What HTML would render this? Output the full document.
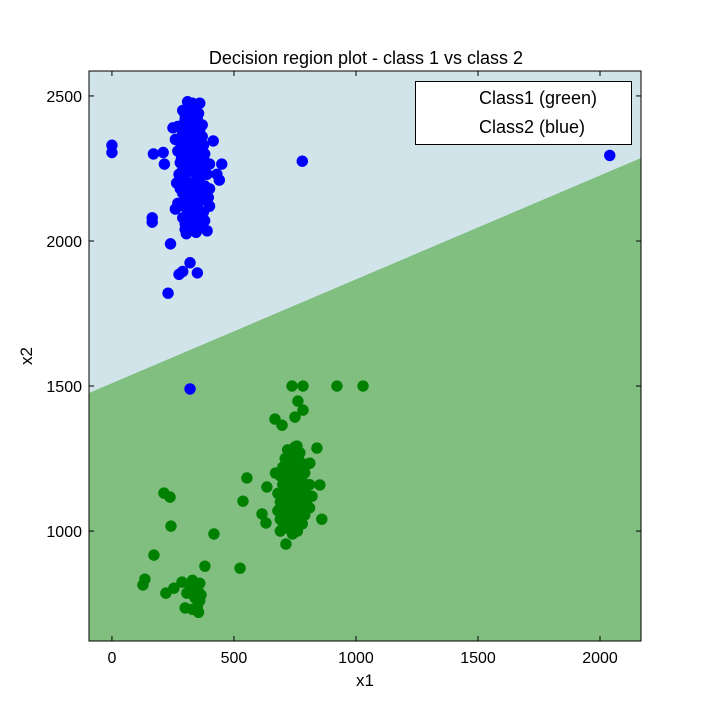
<!DOCTYPE html>
<html><head><meta charset="utf-8"><style>
body{margin:0;background:#fff;}
svg text{font-family:"Liberation Sans","DejaVu Sans",sans-serif;fill:#000;}
</style></head><body>
<svg id="c" width="712" height="712" xmlns="http://www.w3.org/2000/svg">
<rect width="712" height="712" fill="#fff"/>
<defs><clipPath id="clip"><rect x="89" y="71" width="552" height="570"/></clipPath></defs>
<g id="plot" clip-path="url(#clip)"></g>
<g id="axes"></g>
</svg>
<script>
const xTicks=[0,500,1000,1500,2000];
const yTicks=[1000,1500,2000,2500];
const boundaryX=[-94,2168];
const boundaryY=[1476,2286];
const blueX=[0,0,170,210,215,165,165,240,320,275,290,350,230,320,780,2040,415,400,450,440,390,430,
310,330,360,320,355,300,340,370,250,270,290,320,350,370,260,280,310,340,365,380,270,300,330,360,385,280,305,340,370,390,275,300,325,355,380,400,280,300,330,360,385,270,295,320,350,375,290,315,340,360,320,300,345,400,260,380,310,290,345,265,375,395,
315,335,300,325,350,290,315,340,360,285,310,335,355,290,315,340,365,285,310,335,360,290,315,340,365,285,310,335,360,290,315,340,365,300,325,350,310,335,355,300,325,345,330,305];
const blueY=[2330,2305,2300,2305,2265,2080,2065,1990,1925,1885,1895,1890,1820,1490,2275,2295,2345,2265,2265,2210,2035,2230,
2480,2475,2475,2450,2440,2420,2410,2400,2390,2395,2380,2380,2370,2360,2350,2340,2340,2330,2320,2300,2310,2300,2290,2280,2270,2270,2260,2250,2240,2230,2230,2210,2200,2200,2190,2180,2180,2160,2150,2150,2140,2130,2120,2110,2100,2100,2080,2070,2060,2050,2040,2040,2030,2120,2110,2070,2300,2450,2470,2200,2330,2150,
2460,2455,2435,2425,2420,2400,2395,2390,2385,2360,2360,2355,2345,2320,2320,2315,2305,2285,2280,2275,2265,2245,2240,2235,2225,2205,2200,2195,2185,2165,2165,2160,2155,2135,2130,2125,2095,2090,2085,2060,2055,2050,2080,2025];
const greenX=[738,783,922,1029,762,783,750,668,697,758,840,811,553,635,852,537,615,631,860,713,213,238,242,418,172,381,525,135,127,287,254,221,307,
330,345,355,340,360,350,330,355,365,320,360,300,
720,750,745,770,700,730,760,790,690,720,750,780,810,700,730,760,790,680,710,740,770,800,690,720,750,780,700,730,760,790,690,720,750,780,700,730,760,690,820,670,800,740,770,710,680,810,
735,765,715,745,775,705,735,765,795,715,745,775,705,735,765,715,745,775,725,755];
const greenY=[1500,1500,1500,1500,1448,1417,1393,1386,1365,1293,1286,1234,1183,1152,1159,1103,1059,1028,1041,955,1131,1117,1017,990,917,879,872,834,814,824,803,786,786,
830,810,790,770,760,740,730,720,780,800,820,735,
1280,1290,1260,1240,1220,1215,1210,1200,1190,1185,1180,1170,1160,1160,1150,1145,1140,1130,1125,1120,1115,1110,1100,1095,1090,1085,1070,1065,1060,1055,1040,1035,1030,1025,1010,1005,1000,1000,1120,1200,1230,990,1270,1250,1070,1080,
1235,1225,1205,1200,1195,1175,1170,1165,1150,1140,1135,1130,1110,1105,1100,1080,1075,1070,1050,1045];
const X0=89,X1=641,Y0=641,Y1=71,xmin=-94,xmax=2168,ymin=621,ymax=2586;
const sx=v=>X0+(v-xmin)/(xmax-xmin)*(X1-X0);
const sy=v=>Y0-(v-ymin)/(ymax-ymin)*(Y0-Y1);
const NS="http://www.w3.org/2000/svg";
function mk(p,t,a){const e=document.createElementNS(NS,t);for(const k in a)e.setAttribute(k,a[k]);p.appendChild(e);return e;}
const plot=document.getElementById('plot'),axes=document.getElementById('axes');
const bg=mk(plot,'rect',{x:X0,y:Y1,width:X1-X0,height:Y0-Y1,fill:'#d1e4ea'});


const lx1=sx(boundaryX[0]),ly1=sy(boundaryY[0]),lx2=sx(boundaryX[1]),ly2=sy(boundaryY[1]);
const reg=mk(plot,'polygon',{points:`${lx1-20},${ly1+(ly1-ly2)/(lx2-lx1)*20} ${lx2+20},${ly2-(ly1-ly2)/(lx2-lx1)*20} ${X1+20},${Y0+20} ${X0-20},${Y0+20}`,fill:'#80bf80'});


function pts(xs,ys,col,name){for(let i=0;i<xs.length;i++){const c=mk(plot,'circle',{cx:sx(xs[i]),cy:sy(ys[i]),r:5.7,fill:col});

}}
pts(greenX,greenY,'#008000','class1-point');
pts(blueX,blueY,'#0000ff','class2-point');
const fr=mk(axes,'rect',{x:X0,y:Y1,width:X1-X0,height:Y0-Y1,fill:'none',stroke:'#000','stroke-width':1});


xTicks.forEach(v=>{const x=sx(v);mk(axes,'line',{x1:x,x2:x,y1:Y0,y2:Y0-5,stroke:'#000'});mk(axes,'line',{x1:x,x2:x,y1:Y1,y2:Y1+5,stroke:'#000'});
const t=mk(axes,'text',{x:x,y:Y0+22,'text-anchor':'middle','font-size':16});t.textContent=v;

});
yTicks.forEach(v=>{const y=sy(v);mk(axes,'line',{x1:X0,x2:X0+5,y1:y,y2:y,stroke:'#000'});mk(axes,'line',{x1:X1,x2:X1-5,y1:y,y2:y,stroke:'#000'});
const t=mk(axes,'text',{x:X0-7,y:y+6,'text-anchor':'end','font-size':16});t.textContent=v;

});
</script>
<svg style="position:absolute;left:0;top:0" width="712" height="712" xmlns="http://www.w3.org/2000/svg">
<text x="366" y="64" text-anchor="middle" font-size="18">Decision region plot - class 1 vs class 2</text>
<text x="365" y="686" text-anchor="middle" font-size="17">x1</text>
<text x="32" y="356" text-anchor="middle" font-size="17" transform="rotate(-90 32 356)">x2</text>
<g>
<rect x="415.5" y="81.5" width="216" height="63" fill="#fff" stroke="#000"/>
<text x="479" y="104" font-size="18">Class1 (green)</text>
<text x="479" y="133" font-size="18">Class2 (blue)</text>
</g>
</svg>
</body></html>
